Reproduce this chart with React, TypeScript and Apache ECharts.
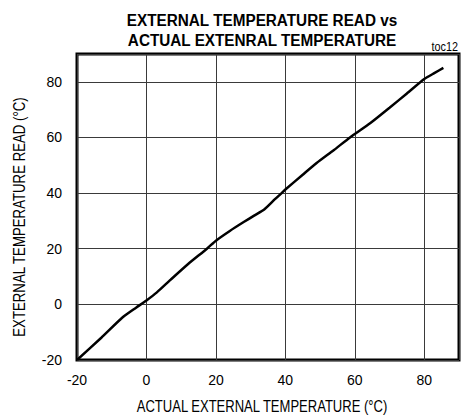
import React, { useEffect, useRef } from "react";
import * as echarts from "echarts";

const titleLines = ["EXTERNAL TEMPERATURE READ vs", "ACTUAL EXTENRAL TEMPERATURE"];
const xName = "ACTUAL EXTERNAL TEMPERATURE (°C)";
const yName = "EXTERNAL TEMPERATURE READ (°C)";
const tag = "toc12";

const actualTemp = [-20, -13, -7, -3, 0, 3, 7, 12, 17.4, 20, 24, 28, 31, 34, 37, 39, 40, 45, 49, 54, 58.6, 64.5, 70, 75, 80, 83, 85.5];
const readTemp = [-20, -12, -4.8, -1.2, 1.4, 4.3, 8.9, 14.5, 20, 22.9, 26.4, 29.6, 31.9, 34.2, 37.8, 40.1, 41.3, 46.6, 50.8, 55.5, 60, 65.2, 70.7, 75.8, 81, 83.2, 85];

export default function App() {
  const ref = useRef<HTMLDivElement>(null);
  useEffect(() => {
    if (!ref.current) return;
    const chart = echarts.init(ref.current, undefined, { renderer: "svg" });
    const font = "'Liberation Sans', Arial, sans-serif";
    const txt = (text: string, x: number, y: number, size: number, sx: number, extra: any = {}) => ({
      type: "text",
      x,
      y,
      scaleX: sx,
      ...extra,
      style: {
        text,
        fontSize: size,
        fill: "#000",
        textAlign: extra.align || "center",
        textVerticalAlign: "middle",
        fontFamily: font,
        fontWeight: extra.weight || "normal",
      },
    });
    chart.setOption({
      animation: false,
      backgroundColor: "#ffffff",
      textStyle: { fontFamily: font },
      grid: {
        left: 77,
        right: 3,
        top: 54,
        bottom: 59,
        show: true,
        borderColor: "#000",
        borderWidth: 3,
        backgroundColor: "transparent",
      },
      xAxis: {
        type: "value",
        min: -20,
        max: 90,
        interval: 20,
        axisLine: { show: false },
        axisTick: { show: false },
        axisLabel: {
          color: "#000",
          fontSize: 14,
          margin: 13,
          fontFamily: font,
          formatter: (v: number) => (v > 80 ? "" : String(v)),
        },
        splitLine: { show: true, lineStyle: { color: "#3a3a3a", width: 1 } },
      },
      yAxis: {
        type: "value",
        min: -20,
        max: 90,
        interval: 20,
        axisLine: { show: false },
        axisTick: { show: false },
        axisLabel: {
          color: "#000",
          fontSize: 14,
          margin: 15,
          fontFamily: font,
          formatter: (v: number) => (v > 80 ? "" : String(v)),
        },
        splitLine: { show: true, lineStyle: { color: "#3a3a3a", width: 1 } },
      },
      graphic: [
        txt(titleLines[0], 262, 19.5, 17, 0.9, { weight: "bold" }),
        txt(titleLines[1], 262, 39.5, 17, 0.9, { weight: "bold" }),
        txt(tag, 458, 47, 12, 0.9, { align: "right" }),
        txt(xName, 262, 407, 16, 0.815),
        txt(yName, 20, 217, 16, 0.827, { rotation: Math.PI / 2 }),
      ],
      series: [
        {
          type: "line",
          data: actualTemp.map((x, i) => [x, readTemp[i]]),
          showSymbol: false,
          smooth: 0.2,
          lineStyle: { color: "#000", width: 2.5 },
        },
      ],
    });
    return () => chart.dispose();
  }, []);
  return (
    <div
      ref={ref}
      style={{ position: "fixed", left: 0, top: 0, width: 462, height: 419, background: "#fff" }}
    />
  );
}
